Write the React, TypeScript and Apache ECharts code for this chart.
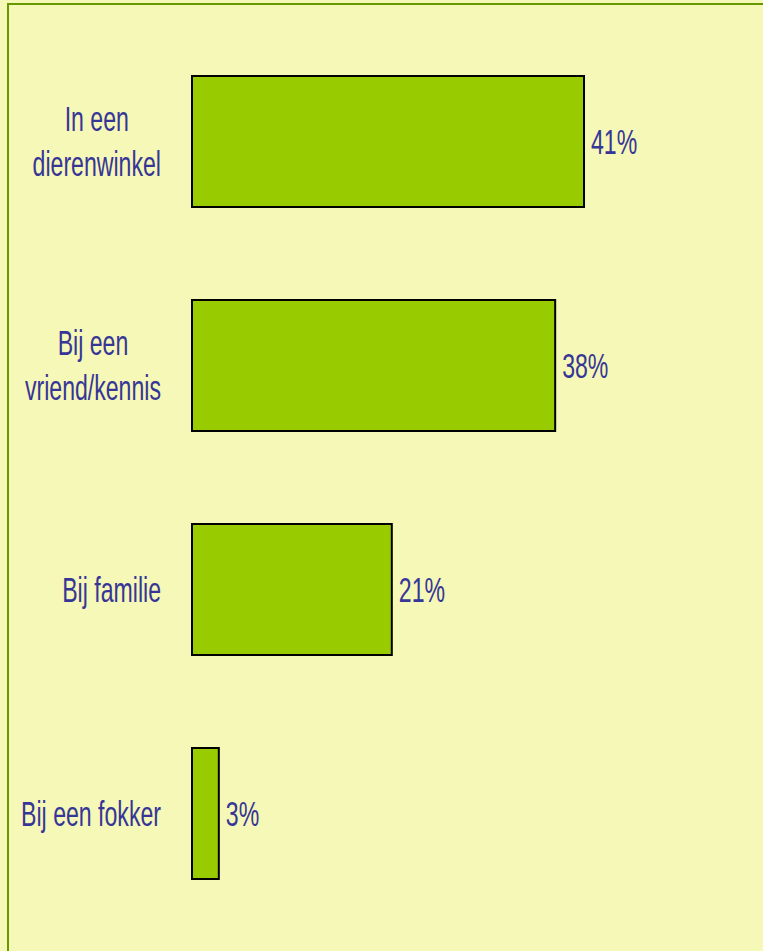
import React, { useEffect, useRef } from "react";
import * as echarts from "echarts";

const categories = ["In een\ndierenwinkel", "Bij een\nvriend/kennis", "Bij familie", "Bij een fokker"];
const values = [41, 38, 21, 3];

const FONT = "'Liberation Sans', Arial, sans-serif";
const TEXT_COLOR = "#363697";
const FONT_SIZE = 35;
const SCALE_X = 0.66;

export default function App() {
  const ref = useRef<HTMLDivElement>(null);
  useEffect(() => {
    if (!ref.current) return;
    const chart = echarts.init(ref.current, undefined, { renderer: "svg" });
    const labelData = values.map((v, i) => [v, i]);
    chart.setOption({
      animation: false,
      backgroundColor: "#F6F8B7",
      graphic: [
        {
          type: "rect",
          shape: { x: 8, y: 4, width: 800, height: 1000 },
          style: { fill: "none", stroke: "#669900", lineWidth: 2 },
          silent: true,
        },
      ],
      grid: {
        left: 191,
        right: 91.5,
        top: 29.5,
        bottom: 25.5,
        containLabel: false,
        outerBoundsMode: "none",
      },
      xAxis: {
        type: "value",
        min: 0,
        max: 50,
        show: false,
      },
      yAxis: {
        type: "category",
        inverse: true,
        data: categories,
        axisLine: { show: false },
        axisTick: { show: false },
        splitLine: { show: false },
        axisLabel: { show: false },
      },
      series: [
        {
          type: "bar",
          data: values,
          barCategoryGap: "40.6%",
          itemStyle: { color: "#99CC00", borderColor: "#000000", borderWidth: 2 },
        },
        {
          type: "custom",
          data: labelData,
          encode: { x: 0, y: 1 },
          z: 5,
          renderItem: (params: any, api: any) => {
            const idx = params.dataIndex;
            const v = api.value(0);
            const end = api.coord([v, idx]);
            const start = api.coord([0, idx]);
            const name = categories[idx];
            const rich = name
              .split("\n")
              .map((l) => `{c|${l}}`)
              .join("\n");
            return {
              type: "group",
              children: [
                {
                  type: "text",
                  x: start[0] - 30,
                  y: start[1],
                  scaleX: SCALE_X,
                  style: {
                    text: rich,
                    align: "right",
                    verticalAlign: "middle",
                    fill: TEXT_COLOR,
                    font: `${FONT_SIZE}px ${FONT}`,
                    lineHeight: 45,
                    rich: {
                      c: {
                        align: "center",
                        fontSize: FONT_SIZE,
                        fontFamily: FONT,
                        fill: TEXT_COLOR,
                        lineHeight: 45,
                      },
                    },
                  },
                },
                {
                  type: "text",
                  x: end[0] + 6,
                  y: end[1],
                  scaleX: SCALE_X,
                  style: {
                    text: `${v}%`,
                    align: "left",
                    verticalAlign: "middle",
                    fill: TEXT_COLOR,
                    font: `${FONT_SIZE}px ${FONT}`,
                  },
                },
              ],
            };
          },
        },
      ],
    });
    return () => chart.dispose();
  }, []);
  return (
    <div
      ref={ref}
      style={{ position: "fixed", left: 0, top: 0, width: 763, height: 951 }}
    />
  );
}
